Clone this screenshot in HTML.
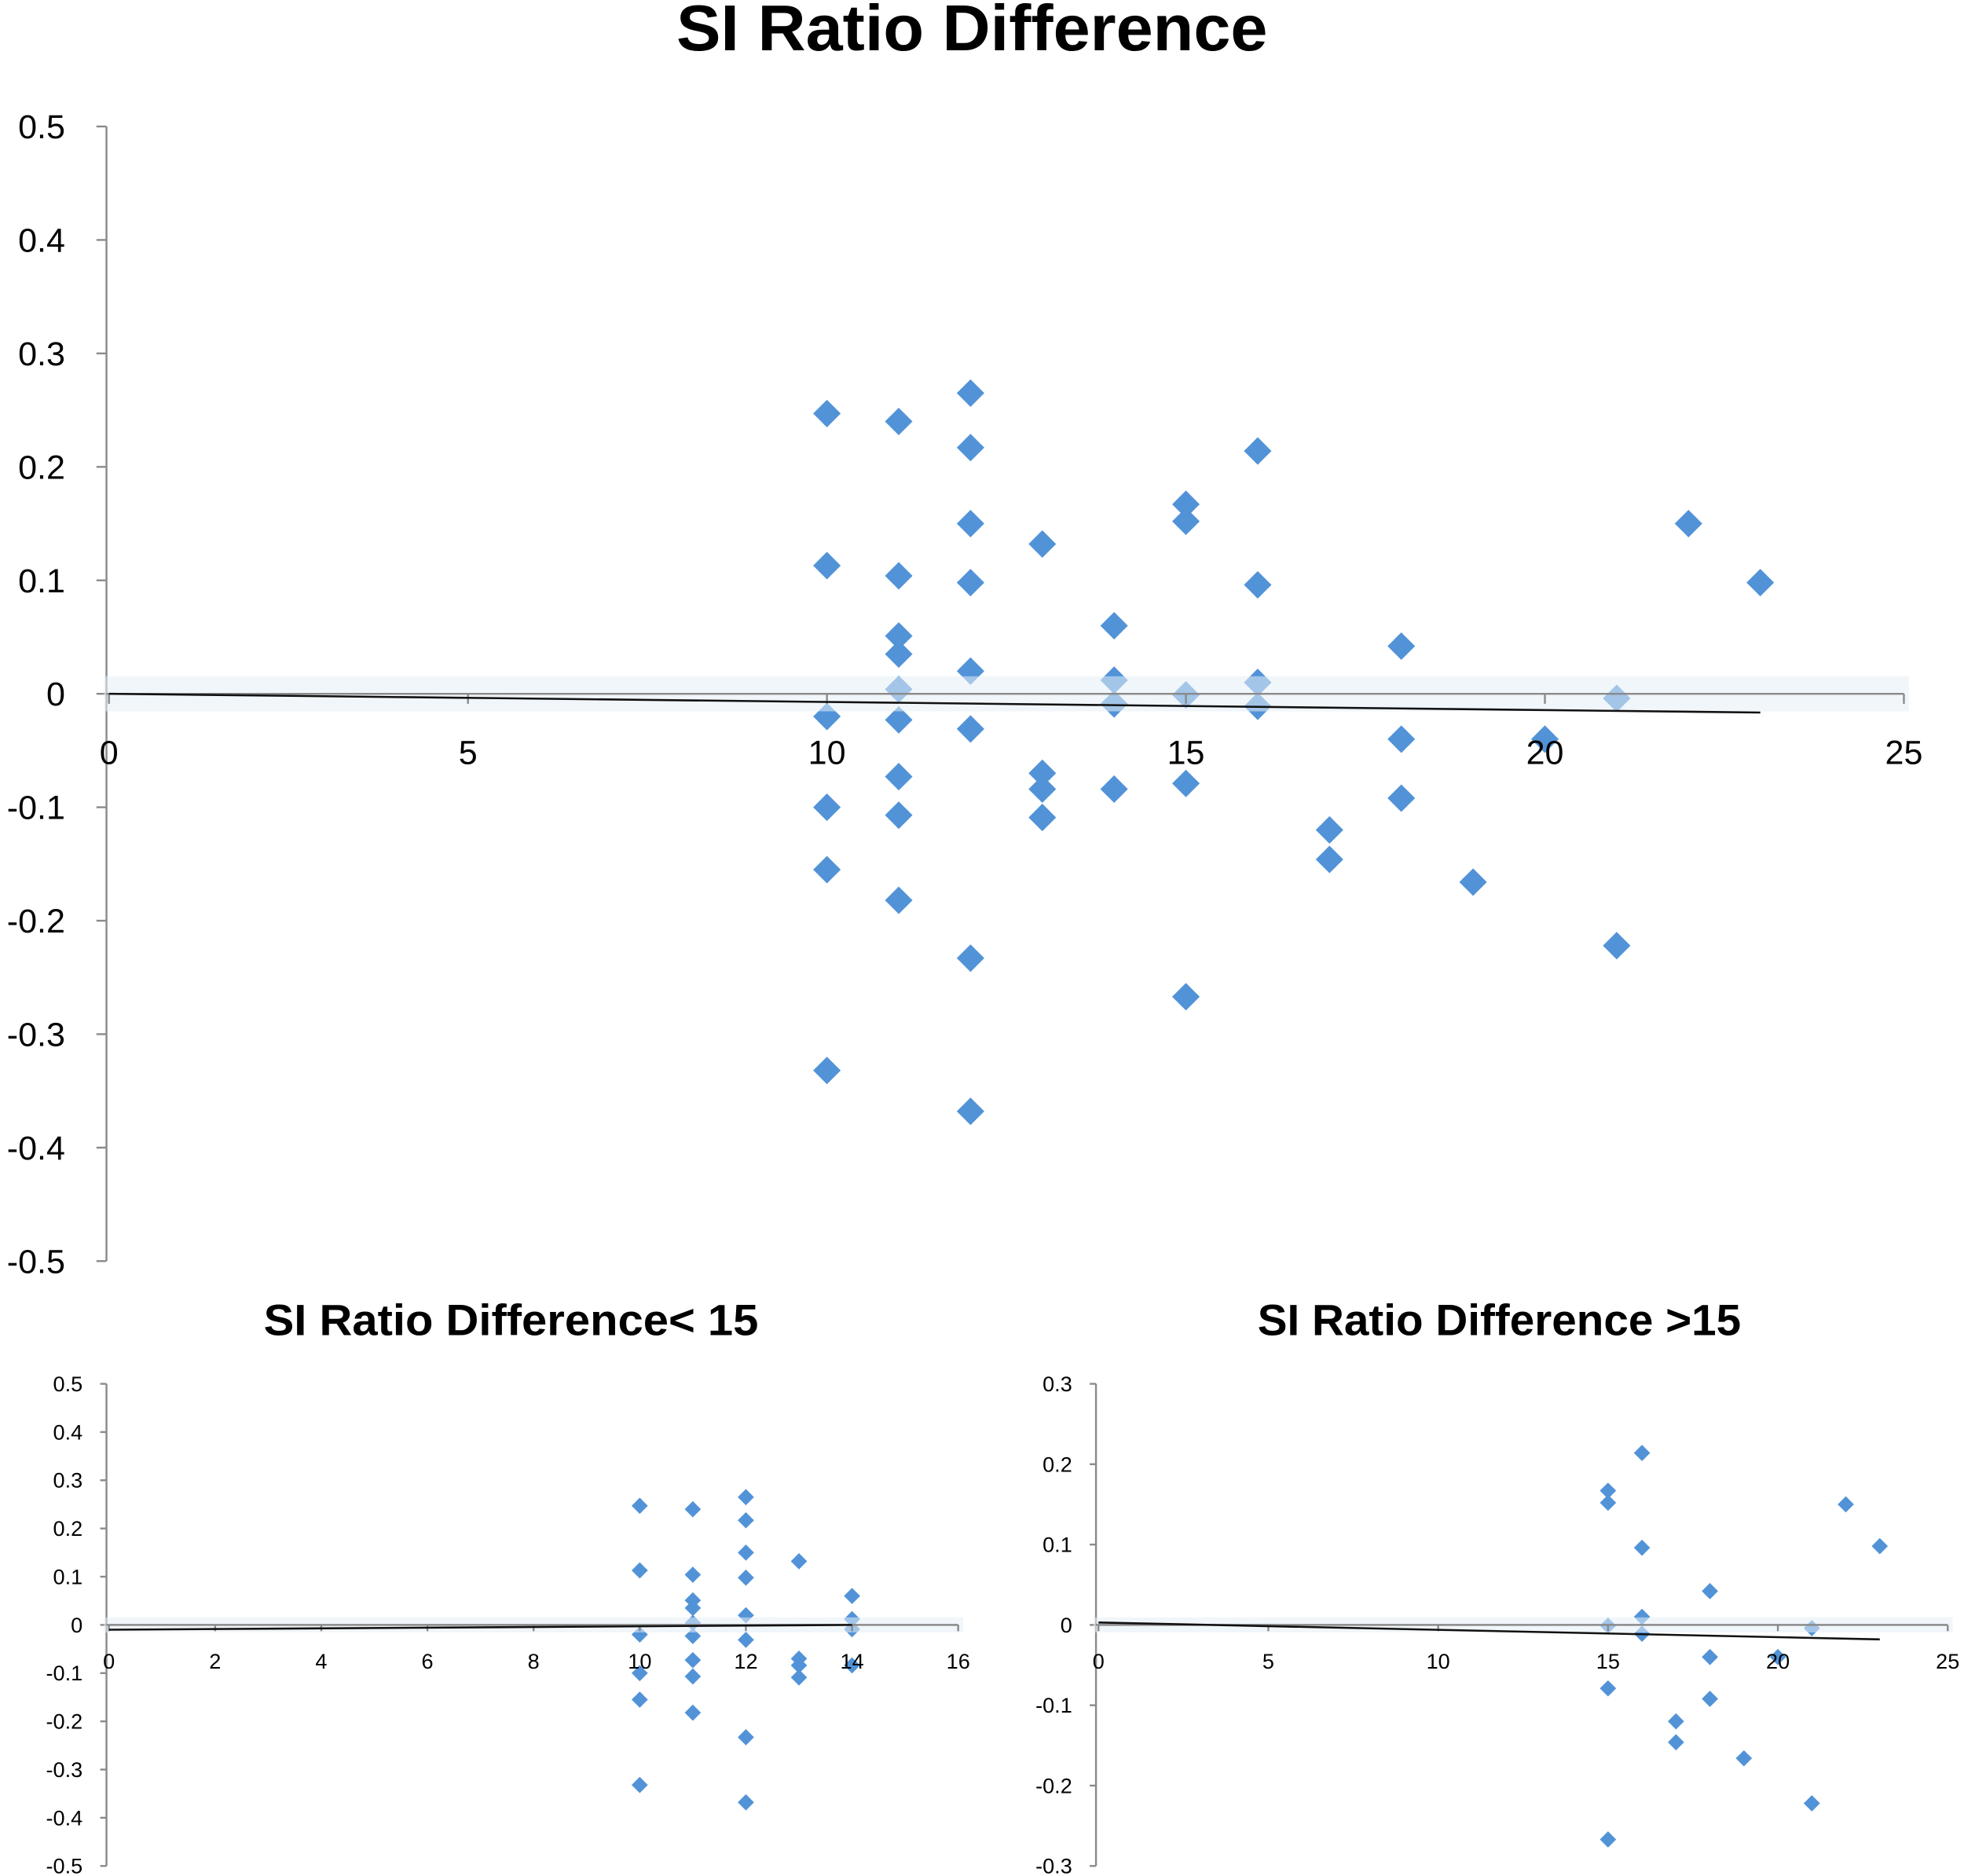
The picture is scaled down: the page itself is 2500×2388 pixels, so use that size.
<!DOCTYPE html>
<html><head><meta charset="utf-8"><style>
html,body{margin:0;padding:0;background:#fff}
svg{display:block}
text{font-family:"Liberation Sans",sans-serif;fill:#000}
</style></head><body>
<svg id="c" width="2500" height="2388" viewBox="0 0 1568 1498" preserveAspectRatio="none" xmlns="http://www.w3.org/2000/svg">
<text x="776" y="40" text-anchor="middle" font-size="52" font-weight="bold" textLength="472" lengthAdjust="spacingAndGlyphs">SI Ratio Difference</text>
<text x="408" y="1066" text-anchor="middle" font-size="35" font-weight="bold" textLength="395" lengthAdjust="spacingAndGlyphs">SI Ratio Difference&lt; 15</text>
<text x="1197" y="1066" text-anchor="middle" font-size="35" font-weight="bold" textLength="386" lengthAdjust="spacingAndGlyphs">SI Ratio Difference &gt;15</text>
</svg>
<script>
const xVals=[10,10,10,10,10,10, 11,11,11,11,11,11,11,11,11, 12,12,12,12,12,12,12,12, 13,13,13,13, 14,14,14,14, 15,15,15,15,15, 16,16,16,16, 17,17, 18,18,18, 19, 20, 21,21, 22, 23];
const yVals=[0.247,0.113,-0.02,-0.1,-0.155,-0.332, 0.24,0.104,0.051,0.035,0.004,-0.023,-0.073,-0.107,-0.182, 0.265,0.217,0.15,0.098,0.02,-0.031,-0.233,-0.368, 0.132,-0.07,-0.084,-0.109, 0.06,0.012,-0.009,-0.084, 0.167,0.152,-0.001,-0.079,-0.267, 0.214,0.096,0.01,-0.011, -0.12,-0.146, 0.042,-0.04,-0.092, -0.166, -0.04, -0.004,-0.222, 0.15, 0.098];
const mainXTicks=[0,5,10,15,20,25];
const mainYTicks=[0.5,0.4,0.3,0.2,0.1,0,-0.1,-0.2,-0.3,-0.4,-0.5];
const leftXTicks=[0,2,4,6,8,10,12,14,16];
const leftYTicks=[0.5,0.4,0.3,0.2,0.1,0,-0.1,-0.2,-0.3,-0.4,-0.5];
const rightXTicks=[0,5,10,15,20,25];
const rightYTicks=[0.3,0.2,0.1,0,-0.1,-0.2,-0.3];
const mainTrend=[0,-0.0165,23];
const leftTrend=[-0.01,0,14];
const rightTrend=[0.003,-0.018,23];

const svg=document.getElementById('c');
const NS='http://www.w3.org/2000/svg';
function mk(tag,attrs,parent){const e=document.createElementNS(NS,tag);for(const k in attrs)e.setAttribute(k,attrs[k]);(parent||svg).appendChild(e);return e;}

function chart(o){
  const g=mk('g',{});
  
  
  const yMax=o.yTicks[0],yMin=o.yTicks[o.yTicks.length-1],xMax=o.xTicks[o.xTicks.length-1];
  const X=v=>o.x0+(v/xMax)*(o.x1-o.x0);
  const Y=v=>o.yTop+(yMax-v)/(yMax-yMin)*(o.yBot-o.yTop);
  const ya=mk('line',{x1:o.x0-2,x2:o.x0-2,y1:o.yTop,y2:o.yBot,stroke:'#8a8a8a','stroke-width':1.5},g);
  
  o.yTicks.forEach(t=>{
    mk('line',{x1:o.x0-2-o.tick,x2:o.x0-2,y1:Y(t),y2:Y(t),stroke:'#8a8a8a','stroke-width':1.5},g);
    const tx=mk('text',{x:o.ylx,y:Y(t)+o.fs*0.35,'text-anchor':'end','font-size':o.fs},g);
    tx.textContent=String(t);
    
  });
  xVals.forEach((xv,i)=>{
    if(!o.filter(xv))return;
    const cx=X(xv),cy=Y(yVals[i]),r=o.r;
    const p=mk('polygon',{points:`${cx},${cy-r} ${cx+r},${cy} ${cx},${cy+r} ${cx-r},${cy}`,fill:'#5293d8'},g);
    
  });
  const zy=Y(0);
  mk('rect',{x:o.x0-4,y:zy-o.band,width:o.x1-o.x0+8,height:o.band*2,fill:'#e6eef6',opacity:0.55},g);
  const xa=mk('line',{x1:o.x0-2,x2:o.x1,y1:zy,y2:zy,stroke:'#8a8a8a','stroke-width':1.5},g);
  
  o.xTicks.forEach(t=>{
    mk('line',{x1:X(t),x2:X(t),y1:zy,y2:zy+o.tick,stroke:'#8a8a8a','stroke-width':1.5},g);
    const tx=mk('text',{x:X(t),y:zy+o.xly,'text-anchor':'middle','font-size':o.fs},g);
    tx.textContent=String(t);
    
  });
  const tl=mk('line',{x1:X(0),y1:Y(o.trend[0]),x2:X(o.trend[2]),y2:Y(o.trend[1]),stroke:'#111','stroke-width':1.6},g);
  
}
chart({name:'main-chart',x0:87,x1:1520,yTop:101,yBot:1007,xTicks:mainXTicks,yTicks:mainYTicks,filter:()=>true,r:11,fs:27,ylx:52,xly:56,tick:8,band:14,trend:mainTrend});
chart({name:'left-subchart',x0:87,x1:765,yTop:1105,yBot:1490,xTicks:leftXTicks,yTicks:leftYTicks,filter:v=>v<15,r:6.5,fs:17,ylx:66,xly:35,tick:5,band:6,trend:leftTrend});
chart({name:'right-subchart',x0:877,x1:1555,yTop:1105,yBot:1490,xTicks:rightXTicks,yTicks:rightYTicks,filter:v=>v>=15,r:6.5,fs:17,ylx:856,xly:35,tick:5,band:6,trend:rightTrend});
</script>
</body></html>
